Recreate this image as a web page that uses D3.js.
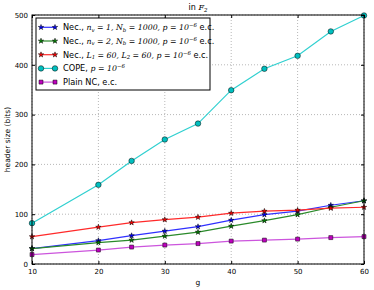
<!DOCTYPE html>
<html>
<head>
<meta charset="utf-8">
<script src="https://cdn.jsdelivr.net/npm/d3@7"></script>
<style>
  body { margin: 0; background: #fff; }
  text { font-family: "DejaVu Sans", sans-serif; }
  .math { font-family: "DejaVu Serif", serif; font-style: italic; }
</style>
</head>
<body>
<div id="chart"></div>
<script>
/* Data */
const gValues = [10, 20, 25, 30, 35, 40, 45, 50, 55, 60];
const necN1 = [31, 47, 57, 66, 75, 88, 99, 106, 118, 127];
const necN2 = [31, 43, 48, 56, 64, 76, 87, 99, 114, 127];
const necL = [55, 74, 83, 89, 94, 102, 106, 108, 112, 114];
const cope = [82, 159, 207, 250, 282, 349, 392, 418, 467, 499];
const plainNC = [19, 28, 34, 38, 41, 46, 48, 50, 53, 55];
const xTicks = [10, 20, 30, 40, 50, 60];
const yTicks = [0, 100, 200, 300, 400, 500];

const series = [
  { values: necN1, color: '#0000ff', line: '#3030ff', marker: 'star' },
  { values: necN2, color: '#008000', line: '#2a8a2a', marker: 'star' },
  { values: necL, color: '#ff0000', line: '#ff2a2a', marker: 'star' },
  { values: cope, color: '#00bfbf', line: '#30d0d0', marker: 'circle' },
  { values: plainNC, color: '#bf00bf', line: '#cc55dd', marker: 'square' },
];

const width = 374, height = 290;
const margin = { top: 15, left: 32, bottom: 26, right: 10 };

const svg = d3.select('#chart').append('svg')
  .attr('width', width)
  .attr('height', height);

const x = d3.scaleLinear().domain([10, 60]).range([margin.left, width - margin.right]);
const y = d3.scaleLinear().domain([0, 500]).range([height - margin.bottom, margin.top]);

// grid
const grid = svg.append('g');
grid.selectAll('line.vx').data(xTicks).join('line')
  .attr('x1', d => x(d)).attr('x2', d => x(d))
  .attr('y1', y(0)).attr('y2', y(500))
  .attr('stroke', '#999').attr('stroke-width', 0.7).attr('stroke-dasharray', '1,2');
grid.selectAll('line.hy').data(yTicks).join('line')
  .attr('y1', d => y(d)).attr('y2', d => y(d))
  .attr('x1', x(10)).attr('x2', x(60))
  .attr('stroke', '#999').attr('stroke-width', 0.7).attr('stroke-dasharray', '1,2');

// lines + markers
const line = d3.line().x((d, i) => x(gValues[i])).y(d => y(d));
const star = d3.symbol().type(d3.symbolStar).size(9);
const circ = d3.symbol().type(d3.symbolCircle).size(24);
const sq = d3.symbol().type(d3.symbolSquare).size(16);
const symFor = m => (m === 'star' ? star : m === 'circle' ? circ : sq);

series.forEach(s => {
  svg.append('path')
    .attr('d', line(s.values))
    .attr('fill', 'none')
    .attr('stroke', s.line)
    .attr('stroke-width', 1.2);
  svg.append('g').selectAll('path').data(s.values).join('path')
    .attr('transform', (d, i) => `translate(${x(gValues[i])},${y(d)})`)
    .attr('d', symFor(s.marker)())
    .attr('fill', s.color)
    .attr('stroke', '#000')
    .attr('stroke-width', 0.5);
});

// frame
svg.append('rect')
  .attr('x', x(10)).attr('y', y(500))
  .attr('width', x(60) - x(10)).attr('height', y(0) - y(500))
  .attr('fill', 'none').attr('stroke', '#000').attr('stroke-width', 1);

// axes (ticks inward)
const xAxis = svg.append('g').attr('transform', `translate(0,${y(0)})`)
  .call(d3.axisBottom(x).tickValues(xTicks).tickSize(-3).tickPadding(5));
const xAxisTop = svg.append('g').attr('transform', `translate(0,${y(500)})`)
  .call(d3.axisTop(x).tickValues(xTicks).tickSize(-3).tickFormat(''));
const yAxis = svg.append('g').attr('transform', `translate(${x(10)},0)`)
  .call(d3.axisLeft(y).tickValues(yTicks).tickSize(-3).tickPadding(4));
const yAxisR = svg.append('g').attr('transform', `translate(${x(60)},0)`)
  .call(d3.axisRight(y).tickValues(yTicks).tickSize(-3).tickFormat(''));
[xAxis, xAxisTop, yAxis, yAxisR].forEach(a => {
  a.select('.domain').remove();
  a.selectAll('text').attr('font-size', 7).attr('fill', '#000')
    .style('font-family', '"DejaVu Sans", sans-serif');
});

// labels
svg.append('text')
  .attr('x', (x(10) + x(60)) / 2).attr('y', height - 5)
  .attr('text-anchor', 'middle').attr('font-size', 7.5).text('g');
svg.append('text')
  .attr('transform', `translate(10,${(y(0) + y(500)) / 2}) rotate(-90)`)
  .attr('text-anchor', 'middle').attr('font-size', 7.5).text('header size (bits)');
const title = svg.append('text')
  .attr('x', (x(10) + x(60)) / 2).attr('y', 10)
  .attr('text-anchor', 'middle').attr('font-size', 8);
title.append('tspan').text('in ');
title.append('tspan').attr('class', 'math').text('F');
title.append('tspan').attr('class', 'math').attr('font-size', 5.5).attr('dy', 2).text('2');

// legend
const legend = svg.append('g').attr('transform', 'translate(36,18)');
legend.append('rect')
  .attr('width', 174).attr('height', 72)
  .attr('fill', '#fff').attr('stroke', '#000').attr('stroke-width', 1);

const legendLabels = [
  [['Nec., '], ['n', 'm'], ['v', 'sub'], [' = 1, ', 'm'], ['N', 'm'], ['b', 'sub'], [' = 1000, ', 'm'], ['p', 'm'], [' = 10', 'm'], ['−6', 'sup'], [' e.c.']],
  [['Nec., '], ['n', 'm'], ['v', 'sub'], [' = 2, ', 'm'], ['N', 'm'], ['b', 'sub'], [' = 1000, ', 'm'], ['p', 'm'], [' = 10', 'm'], ['−6', 'sup'], [' e.c.']],
  [['Nec., '], ['L', 'm'], ['1', 'sub'], [' = 60, ', 'm'], ['L', 'm'], ['2', 'sub'], [' = 60, ', 'm'], ['p', 'm'], [' = 10', 'm'], ['−6', 'sup'], [' e.c.']],
  [['COPE, '], ['p', 'm'], [' = 10', 'm'], ['−6', 'sup']],
  [['Plain NC, e.c.']],
];

series.forEach((s, i) => {
  const ry = 9.3 + i * 13.7;
  const row = legend.append('g').attr('transform', `translate(0,${ry})`);
  row.append('line').attr('x1', 5).attr('x2', 19).attr('y1', 0).attr('y2', 0)
    .attr('stroke', s.line).attr('stroke-width', 1.2);
  [5, 19].forEach(px => row.append('path')
    .attr('transform', `translate(${px},0)`)
    .attr('d', symFor(s.marker)())
    .attr('fill', s.color).attr('stroke', '#000').attr('stroke-width', 0.5));
  const t = row.append('text').attr('x', 27).attr('y', 2.8).attr('font-size', 8.2);
  let shift = 0;
  legendLabels[i].forEach(([str, kind]) => {
    const ts = t.append('tspan').text(str);
    let target = 0;
    if (kind === 'm' || kind === 'sub' || kind === 'sup') ts.attr('class', 'math').attr('font-size', 7.8);
    if (kind === 'sub') { target = 1.5; ts.attr('font-size', 5.4); }
    if (kind === 'sup') { target = -3; ts.attr('font-size', 5.4); }
    if (target !== shift) { ts.attr('dy', target - shift); shift = target; }
  });
});
</script>
</body>
</html>
